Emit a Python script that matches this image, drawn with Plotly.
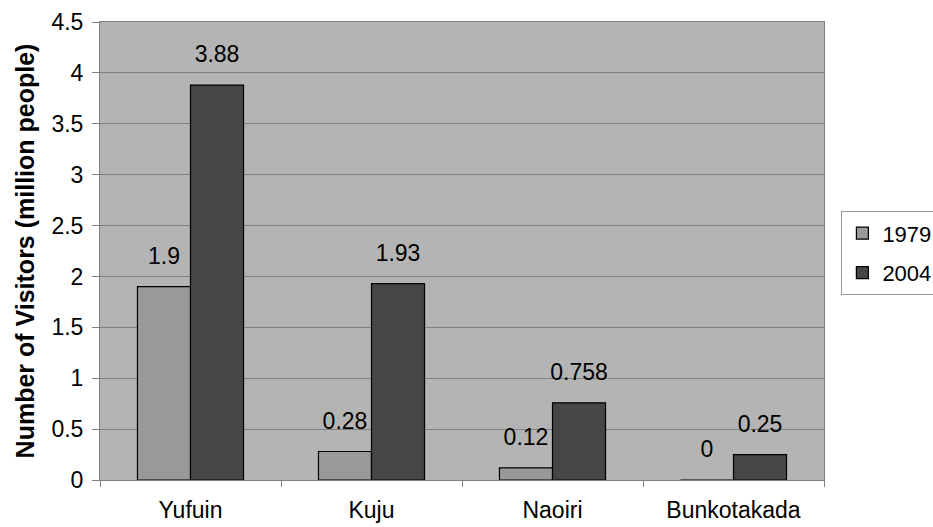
import plotly.graph_objects as go

categories = ["Yufuin", "Kuju", "Naoiri", "Bunkotakada"]
v1979 = [1.9, 0.28, 0.12, 0]
v2004 = [3.88, 1.93, 0.758, 0.25]
labels1979 = ["1.9", "0.28", "0.12", "0"]
labels2004 = ["3.88", "1.93", "0.758", "0.25"]

font = "Liberation Sans, Arial, sans-serif"
series = [("1979", v1979, labels1979, "#999999"),
          ("2004", v2004, labels2004, "#464646")]

fig = go.Figure()
for name, vals, labs, col in series:
    fig.add_trace(go.Bar(
        x=categories, y=vals, name=name, legendgroup=name, offsetgroup=name,
        marker=dict(color=col, line=dict(color="#000000", width=1.2)),
    ))
for name, vals, labs, col in series:
    fig.add_trace(go.Scatter(
        x=categories, y=vals, mode="text+markers", text=labs,
        textposition="top center", showlegend=False, hoverinfo="skip",
        offsetgroup=name, cliponaxis=False,
        marker=dict(size=26, opacity=0),
        textfont=dict(size=23, color="#000000", family=font),
    ))

fig.update_layout(
    width=933, height=527,
    margin=dict(l=100, r=109, t=22, b=47, autoexpand=False),
    paper_bgcolor="#ffffff",
    plot_bgcolor="#b4b4b4",
    barmode="group", bargap=0.414, bargroupgap=0,
    scattermode="group", scattergap=0.414,
    font=dict(family=font, size=23, color="#000000"),
    legend=dict(
        x=1.024, xanchor="left", y=0.495, yanchor="middle",
        bordercolor="#999999", borderwidth=1, bgcolor="#ffffff",
        font=dict(size=22, family=font),
        itemwidth=30, traceorder="grouped", tracegroupgap=8,
    ),
)
fig.update_xaxes(
    showgrid=False, ticks="outside", tickson="boundaries", ticklen=6,
    tickcolor="#808080", showline=True, linecolor="#808080", linewidth=1,
    mirror=True, tickfont=dict(size=23, family=font), ticklabelstandoff=9,
)
fig.update_yaxes(
    range=[0, 4.5], dtick=0.5, showgrid=True, gridcolor="#808080", gridwidth=1,
    ticks="outside", ticklen=7, tickcolor="#808080", showline=True,
    linecolor="#808080", mirror=True, zeroline=False,
    tickfont=dict(size=23, family=font), tickformat="~g", ticklabelstandoff=4,
    title=dict(text="<b>Number of Visitors (million people)</b>",
               font=dict(size=25, family=font), standoff=9),
)

fig.write_html("out.html")
